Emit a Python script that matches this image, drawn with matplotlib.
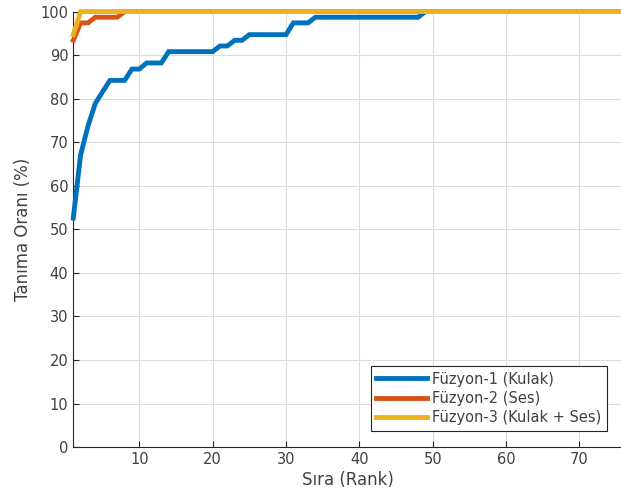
import numpy as np
from matplotlib import pyplot as plt

# rank axis and recognition rates (%)
ranks = np.arange(1, 77)

fuzyon1 = [52.6, 67.1, 73.7, 78.9, 81.6, 84.2, 84.2, 84.2, 86.8, 86.8,
           88.2, 88.2, 88.2, 90.8, 90.8, 90.8, 90.8, 90.8, 90.8, 90.8,
           92.1, 92.1, 93.4, 93.4, 94.7, 94.7, 94.7, 94.7, 94.7, 94.7,
           97.4, 97.4, 97.4, 98.7, 98.7, 98.7, 98.7, 98.7, 98.7, 98.7,
           98.7, 98.7, 98.7, 98.7, 98.7, 98.7, 98.7, 98.7, 100, 100,
           100, 100, 100, 100, 100, 100, 100, 100, 100, 100,
           100, 100, 100, 100, 100, 100, 100, 100, 100, 100,
           100, 100, 100, 100, 100, 100]

fuzyon2 = [93.4, 97.4, 97.4, 98.7, 98.7, 98.7, 98.7, 100, 100, 100,
           100, 100, 100, 100, 100, 100, 100, 100, 100, 100,
           100, 100, 100, 100, 100, 100, 100, 100, 100, 100,
           100, 100, 100, 100, 100, 100, 100, 100, 100, 100,
           100, 100, 100, 100, 100, 100, 100, 100, 100, 100,
           100, 100, 100, 100, 100, 100, 100, 100, 100, 100,
           100, 100, 100, 100, 100, 100, 100, 100, 100, 100,
           100, 100, 100, 100, 100, 100]

fuzyon3 = [94.7, 100, 100, 100, 100, 100, 100, 100, 100, 100,
           100, 100, 100, 100, 100, 100, 100, 100, 100, 100,
           100, 100, 100, 100, 100, 100, 100, 100, 100, 100,
           100, 100, 100, 100, 100, 100, 100, 100, 100, 100,
           100, 100, 100, 100, 100, 100, 100, 100, 100, 100,
           100, 100, 100, 100, 100, 100, 100, 100, 100, 100,
           100, 100, 100, 100, 100, 100, 100, 100, 100, 100,
           100, 100, 100, 100, 100, 100]

labels = ['Füzyon-1 (Kulak)', 'Füzyon-2 (Ses)', 'Füzyon-3 (Kulak + Ses)']
colors = ['#0072BD', '#D95319', '#EDB120']

axcol = '#262626'
txtcol = '#404040'

fig = plt.figure(figsize=(6.21, 5.03), dpi=100)
ax = fig.add_axes([0.118, 0.111, 0.886, 0.866])

for y, lab, c in zip([fuzyon1, fuzyon2, fuzyon3], labels, colors):
    ax.plot(ranks, y, color=c, lw=3.5, label=lab, clip_on=False,
            solid_joinstyle='miter', zorder=3)

ax.set_xlim(1, 76)
ax.set_ylim(0, 100)
ax.set_xticks(np.arange(10, 80, 10))
ax.set_yticks(np.arange(0, 110, 10))
ax.grid(True, color='#dcdcdc', lw=0.8)
ax.set_axisbelow(True)
ax.tick_params(direction='in', colors=axcol, labelcolor=txtcol,
               labelsize=10.5, length=4)
for s in ax.spines.values():
    s.set_color(axcol)
    s.set_linewidth(0.8)

ax.set_xlabel('Sıra (Rank)', fontsize=12, color=txtcol, labelpad=3)
ax.set_ylabel('Tanıma Oranı (%)', fontsize=12, color=txtcol, labelpad=6)

leg = ax.legend(loc='lower right', bbox_to_anchor=(0.983, 0.02),
                fontsize=10.5, handlelength=3.5, handletextpad=0.3,
                labelspacing=0.3, borderpad=0.4, fancybox=False,
                framealpha=1, edgecolor=axcol)
leg.get_frame().set_linewidth(0.8)
leg.set_zorder(5)
for t in leg.get_texts():
    t.set_color(txtcol)

fig.savefig('out.png', dpi=100)
